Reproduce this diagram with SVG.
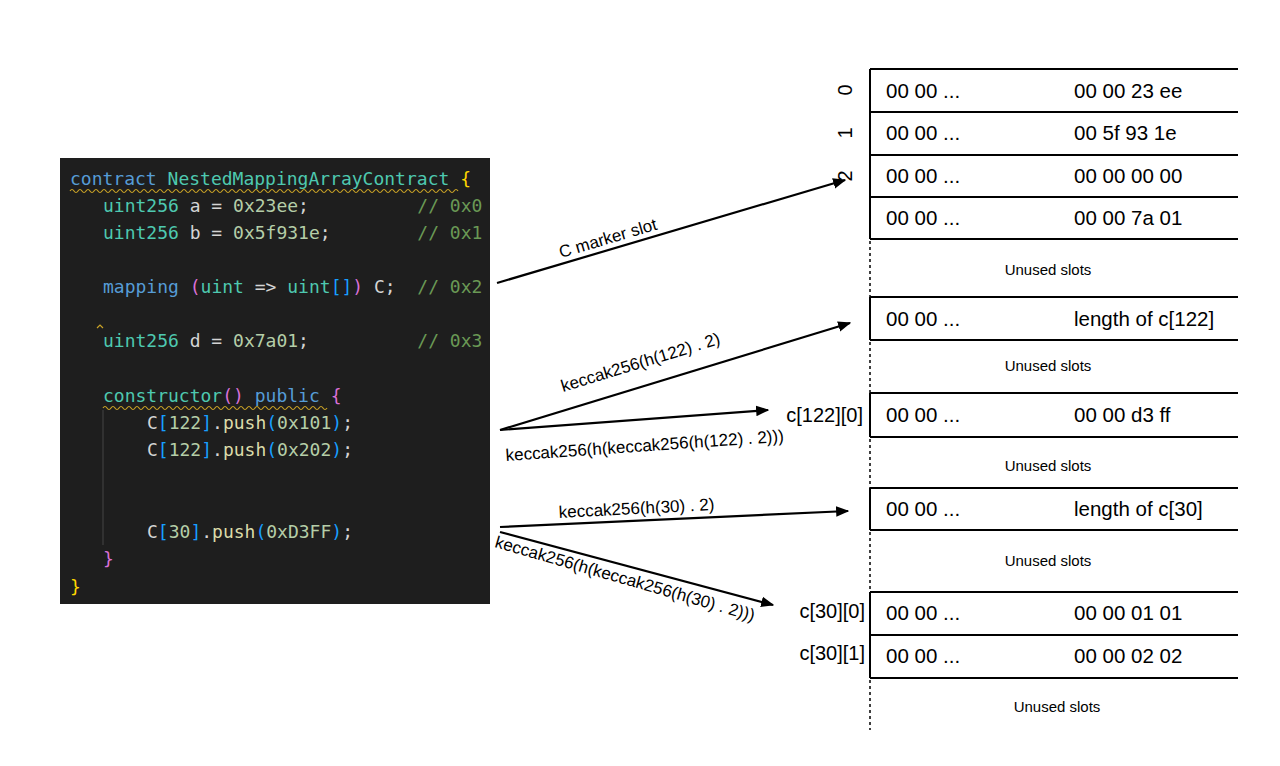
<svg xmlns="http://www.w3.org/2000/svg" width="1280" height="766" viewBox="0 0 1280 766">
<style>
.code{font-family:"DejaVu Sans Mono",monospace;font-size:18px;fill:#d4d4d4;white-space:pre}
.kw{fill:#569cd6}.ty{fill:#4ec9b0}.nu{fill:#b5cea8}.cm{fill:#6a9955}.br{fill:#ffd700}.pk{fill:#da70d6}.bl{fill:#179fff}.fn{fill:#dcdcaa}
.cell{font-family:"Liberation Sans",Arial,sans-serif;font-size:20.5px;fill:#000}
.un{font-family:"Liberation Sans",Arial,sans-serif;font-size:15px;fill:#000}
.lbl{font-family:"Liberation Sans",Arial,sans-serif;font-size:17px;fill:#000}
.side{font-family:"Liberation Sans",Arial,sans-serif;font-size:20px;fill:#000}
.ln{stroke:#000;stroke-width:2;fill:none}
.dot{stroke:#000;stroke-width:1.5;stroke-dasharray:3 3;fill:none}
.arr{stroke:#000;stroke-width:2.2;fill:none;marker-end:url(#ah)}
.sq{stroke:#c9a227;stroke-width:1.2;fill:none}
</style>
<defs>
<marker id="ah" viewBox="0 0 10 10" refX="9" refY="5" markerWidth="6" markerHeight="6" orient="auto" markerUnits="strokeWidth"><path d="M0,1 L10,5 L0,9 z" fill="#000"/></marker>
</defs>
<rect width="1280" height="766" fill="#fff"/>
<g id="code">
<rect x="60" y="158" width="430" height="446" fill="#1e1e1e"/>
<line x1="103" y1="410" x2="103" y2="545" stroke="#444" stroke-width="1"/>
<text class="code" x="70" y="185"><tspan class="kw">contract</tspan> <tspan class="ty">NestedMappingArrayContract</tspan> <tspan class="br">{</tspan></text>
<path class="sq" d="M70,191 q2,-3 4,0 t4,0 t4,0 t4,0 t4,0 t4,0 t4,0 t4,0 t4,0 t4,0 t4,0 t4,0 t4,0 t4,0 t4,0 t4,0 t4,0 t4,0 t4,0 t4,0 t4,0 t4,0 t4,0 t4,0 t4,0 t4,0 t4,0 t4,0 t4,0 t4,0 t4,0 t4,0 t4,0 t4,0 t4,0 t4,0 t4,0 t4,0 t4,0 t4,0 t4,0 t4,0 t4,0 t4,0 t4,0 t4,0 t4,0 t4,0 t4,0 t4,0 t4,0 t4,0 t4,0 t4,0 t4,0 t4,0 t4,0 t4,0 t4,0 t4,0 t4,0 t4,0 t4,0 t4,0 t4,0 t4,0 t4,0 t4,0 t4,0 t4,0 t4,0 t4,0 t4,0 t4,0 t4,0 t4,0 t4,0 t4,0 t4,0 t4,0 t4,0 t4,0 t4,0 t4,0 t4,0 t4,0 t4,0 t4,0 t4,0 t4,0 t4,0 t4,0 t4,0 t4,0 t4,0 t4,0 t4,0"/>
<text class="code" x="103" y="212"><tspan class="ty">uint256</tspan> a = <tspan class="nu">0x23ee</tspan>;          <tspan class="cm">// 0x0</tspan></text>
<text class="code" x="103" y="239"><tspan class="ty">uint256</tspan> b = <tspan class="nu">0x5f931e</tspan>;        <tspan class="cm">// 0x1</tspan></text>
<text class="code" x="103" y="293"><tspan class="kw">mapping</tspan> <tspan class="pk">(</tspan><tspan class="ty">uint</tspan> =&gt; <tspan class="ty">uint</tspan><tspan class="bl">[]</tspan><tspan class="pk">)</tspan> C;  <tspan class="cm">// 0x2</tspan></text>
<path class="sq" d="M97,328 l3,-3 l3,3"/>
<text class="code" x="103" y="347"><tspan class="ty">uint256</tspan> d = <tspan class="nu">0x7a01</tspan>;          <tspan class="cm">// 0x3</tspan></text>
<text class="code" x="103" y="402"><tspan class="ty">constructor</tspan><tspan class="pk">()</tspan> <tspan class="kw">public</tspan> <tspan class="pk">{</tspan></text>
<path class="sq" d="M103,408 q2,-3 4,0 t4,0 t4,0 t4,0 t4,0 t4,0 t4,0 t4,0 t4,0 t4,0 t4,0 t4,0 t4,0 t4,0 t4,0 t4,0 t4,0 t4,0 t4,0 t4,0 t4,0 t4,0 t4,0 t4,0 t4,0 t4,0 t4,0 t4,0 t4,0 t4,0 t4,0 t4,0 t4,0 t4,0 t4,0 t4,0 t4,0 t4,0 t4,0 t4,0 t4,0 t4,0 t4,0 t4,0 t4,0 t4,0 t4,0 t4,0 t4,0 t4,0 t4,0 t4,0 t4,0 t4,0 t4,0 t4,0"/>
<text class="code" x="147" y="429">C<tspan class="bl">[</tspan><tspan class="nu">122</tspan><tspan class="bl">]</tspan>.<tspan class="fn">push</tspan><tspan class="bl">(</tspan><tspan class="nu">0x101</tspan><tspan class="bl">)</tspan>;</text>
<text class="code" x="147" y="456">C<tspan class="bl">[</tspan><tspan class="nu">122</tspan><tspan class="bl">]</tspan>.<tspan class="fn">push</tspan><tspan class="bl">(</tspan><tspan class="nu">0x202</tspan><tspan class="bl">)</tspan>;</text>
<text class="code" x="147" y="538">C<tspan class="bl">[</tspan><tspan class="nu">30</tspan><tspan class="bl">]</tspan>.<tspan class="fn">push</tspan><tspan class="bl">(</tspan><tspan class="nu">0xD3FF</tspan><tspan class="bl">)</tspan>;</text>
<text class="code pk" x="103" y="565">}</text>
<text class="code br" x="70" y="593">}</text>
</g>
<g id="storage">
<line class="ln" x1="870" y1="69" x2="870" y2="239"/>
<line class="ln" x1="870" y1="69" x2="1238" y2="69"/>
<line class="ln" x1="870" y1="112" x2="1238" y2="112"/>
<line class="ln" x1="870" y1="155" x2="1238" y2="155"/>
<line class="ln" x1="870" y1="197" x2="1238" y2="197"/>
<line class="ln" x1="870" y1="239" x2="1238" y2="239"/>
<line class="dot" x1="870" y1="241" x2="870" y2="297"/>
<line class="ln" x1="870" y1="297" x2="870" y2="340"/>
<line class="ln" x1="870" y1="297" x2="1238" y2="297"/>
<line class="ln" x1="870" y1="340" x2="1238" y2="340"/>
<line class="dot" x1="870" y1="342" x2="870" y2="393"/>
<line class="ln" x1="870" y1="393" x2="870" y2="437"/>
<line class="ln" x1="870" y1="393" x2="1238" y2="393"/>
<line class="ln" x1="870" y1="437" x2="1238" y2="437"/>
<line class="dot" x1="870" y1="439" x2="870" y2="488"/>
<line class="ln" x1="870" y1="488" x2="870" y2="530"/>
<line class="ln" x1="870" y1="488" x2="1238" y2="488"/>
<line class="ln" x1="870" y1="530" x2="1238" y2="530"/>
<line class="dot" x1="870" y1="532" x2="870" y2="592"/>
<line class="ln" x1="870" y1="592" x2="870" y2="678"/>
<line class="ln" x1="870" y1="592" x2="1238" y2="592"/>
<line class="ln" x1="870" y1="635" x2="1238" y2="635"/>
<line class="ln" x1="870" y1="678" x2="1238" y2="678"/>
<line class="dot" x1="870" y1="680" x2="870" y2="730"/>
<text class="cell" x="886" y="98">00 00 ...</text><text class="cell" x="1074" y="98">00 00 23 ee</text>
<text class="cell" x="886" y="140">00 00 ...</text><text class="cell" x="1074" y="140">00 5f 93 1e</text>
<text class="cell" x="886" y="183">00 00 ...</text><text class="cell" x="1074" y="183">00 00 00 00</text>
<text class="cell" x="886" y="225">00 00 ...</text><text class="cell" x="1074" y="225">00 00 7a 01</text>
<text class="un" x="1048" y="275" text-anchor="middle">Unused slots</text>
<text class="cell" x="886" y="326">00 00 ...</text><text class="cell" x="1074" y="326">length of c[122]</text>
<text class="un" x="1048" y="371" text-anchor="middle">Unused slots</text>
<text class="cell" x="886" y="422">00 00 ...</text><text class="cell" x="1074" y="422">00 00 d3 ff</text>
<text class="un" x="1048" y="471" text-anchor="middle">Unused slots</text>
<text class="cell" x="886" y="516">00 00 ...</text><text class="cell" x="1074" y="516">length of c[30]</text>
<text class="un" x="1048" y="566" text-anchor="middle">Unused slots</text>
<text class="cell" x="886" y="620">00 00 ...</text><text class="cell" x="1074" y="620">00 00 01 01</text>
<text class="cell" x="886" y="663">00 00 ...</text><text class="cell" x="1074" y="663">00 00 02 02</text>
<text class="un" x="1057" y="712" text-anchor="middle">Unused slots</text>
<text class="side" transform="translate(852,90) rotate(-90)" text-anchor="middle">0</text>
<text class="side" transform="translate(852,133) rotate(-90)" text-anchor="middle">1</text>
<text class="side" transform="translate(852,176) rotate(-90)" text-anchor="middle">2</text>
<text class="side" x="863" y="422" text-anchor="end">c[122][0]</text>
<text class="side" x="865" y="618" text-anchor="end">c[30][0]</text>
<text class="side" x="865" y="660" text-anchor="end">c[30][1]</text>
</g>
<g id="connectors">
<line class="arr" x1="497" y1="283" x2="845" y2="180"/>
<line class="arr" x1="500" y1="430" x2="850" y2="323"/>
<line class="arr" x1="500" y1="430" x2="768" y2="410"/>
<line class="arr" x1="500" y1="527" x2="848" y2="511"/>
<line class="arr" x1="500" y1="532" x2="773" y2="605"/>
<text class="lbl" transform="translate(561,258) rotate(-16.5)">C marker slot</text>
<text class="lbl" transform="translate(563,392) rotate(-17)">keccak256(h(122) . 2)</text>
<text class="lbl" transform="translate(506,461) rotate(-4)">keccak256(h(keccak256(h(122) . 2)))</text>
<text class="lbl" transform="translate(559,518) rotate(-3)">keccak256(h(30) . 2)</text>
<text class="lbl" transform="translate(494,547) rotate(16)">keccak256(h(keccak256(h(30) . 2)))</text>
</g>
</svg>
